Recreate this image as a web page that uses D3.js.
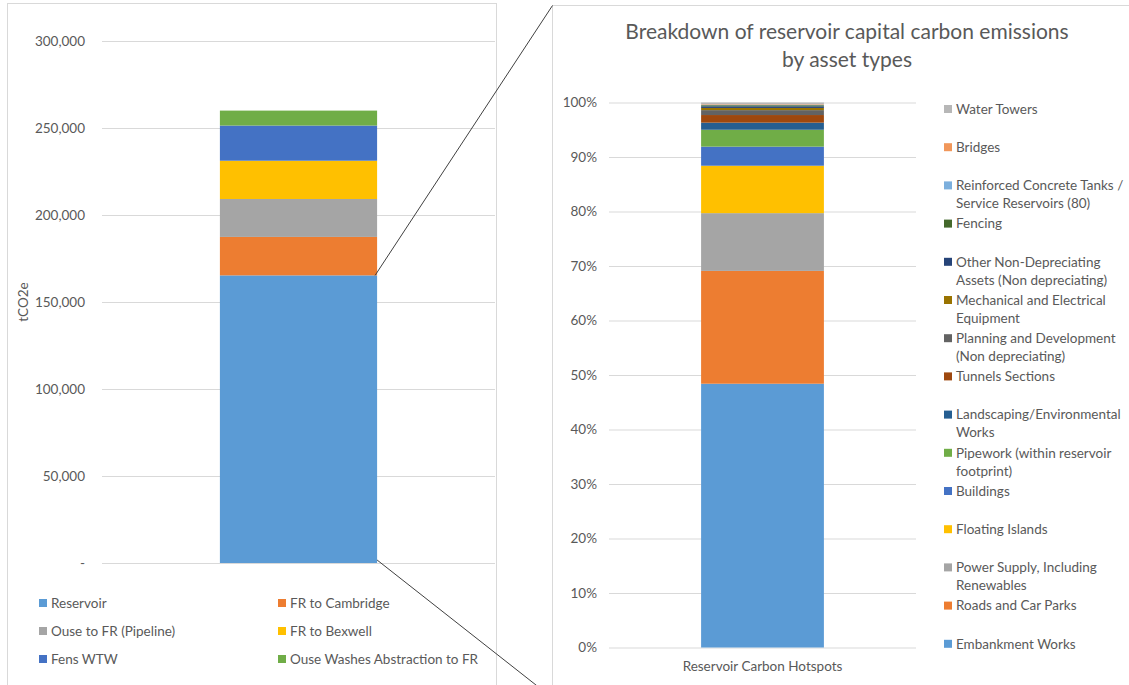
<!DOCTYPE html>
<html><head><meta charset="utf-8">
<script src="https://cdn.jsdelivr.net/npm/d3@7"></script>
<style>
body{margin:0;background:#fff}
svg{display:block}
text{font-family:Lato,"Open Sans",sans-serif;fill:#595959}
</style>
</head><body>
<svg id="c" width="1129" height="685"></svg>
<script>
// ---------- data ----------
const leftCategories = ["Total"];
const leftSeries = ["Reservoir","FR to Cambridge","Ouse to FR (Pipeline)","FR to Bexwell","Fens WTW","Ouse Washes Abstraction to FR"];
const leftValues = [165300, 22100, 21800, 22000, 20200, 8600];
const leftColors = ["#5B9BD5","#ED7D31","#A5A5A5","#FFC000","#4472C4","#70AD47"];
const leftTicks = [0, 50000, 100000, 150000, 200000, 250000, 300000];

const rightCategories = ["Reservoir Carbon Hotspots"];
const rightSeries = ["Embankment Works","Roads and Car Parks","Power Supply, Including Renewables","Floating Islands","Buildings","Pipework (within reservoir footprint)","Landscaping/Environmental Works","Tunnels Sections","Planning and Development (Non depreciating)","Mechanical and Electrical Equipment","Other Non-Depreciating Assets (Non depreciating)","Fencing","Reinforced Concrete Tanks / Service Reservoirs (80)","Bridges","Water Towers"];
const rightLegendLines = [["Embankment Works"],["Roads and Car Parks"],["Power Supply, Including","Renewables"],["Floating Islands"],["Buildings"],["Pipework (within reservoir","footprint)"],["Landscaping/Environmental","Works"],["Tunnels Sections"],["Planning and Development","(Non depreciating)"],["Mechanical and Electrical","Equipment"],["Other Non-Depreciating","Assets (Non depreciating)"],["Fencing"],["Reinforced Concrete Tanks /","Service Reservoirs (80)"],["Bridges"],["Water Towers"]];
const rightValues = [48.4, 20.7, 10.6, 8.7, 3.5, 3.1, 1.3, 1.4, 0.9, 0.4, 0.3, 0.2, 0.1, 0.1, 0.3];
const rightColors = ["#5B9BD5","#ED7D31","#A5A5A5","#FFC000","#4472C4","#70AD47","#255E91","#9E480E","#636363","#997300","#264478","#43682B","#7CAFDD","#F1975A","#B7B7B7"];
const rightTicks = [0,0.1,0.2,0.3,0.4,0.5,0.6,0.7,0.8,0.9,1];
const rightTitle = ["Breakdown of reservoir capital carbon emissions","by asset types"];
const leftAxisTitle = "tCO2e";

// ---------- drawing ----------
const svg = d3.select("#c");
const grid = "#d9d9d9";
const fs = 13.5;

// chart frames
svg.append("rect").attr("x",7.5).attr("y",3.5).attr("width",489).attr("height",720)
  .attr("fill","none").attr("stroke",grid);
svg.append("rect").attr("x",552.5).attr("y",5.5).attr("width",620).attr("height",720)
  .attr("fill","none").attr("stroke",grid);

// ===== Left chart =====
const lx = d3.scaleBand().domain(leftCategories).range([102,495]).paddingInner(0.6).paddingOuter(0.3);
const ly = d3.scaleLinear().domain([0,300000]).range([563,41]);

const lAxis = d3.axisLeft(ly).tickValues(leftTicks).tickSize(-(495-102)).tickPadding(17)
  .tickFormat(d => d === 0 ? "-" : d3.format(",")(d));
const lg = svg.append("g").attr("transform","translate(102,0)").call(lAxis);
lg.select(".domain").remove();
lg.selectAll(".tick line").attr("stroke",grid).attr("stroke-width",1);
lg.selectAll(".tick text").attr("font-size",fs).attr("fill","#595959").style("font-family","Lato, 'Open Sans', sans-serif");

const leftRow = {};
leftSeries.forEach((s,i)=> leftRow[s] = leftValues[i]);
leftRow.cat = leftCategories[0];
const lStack = d3.stack().keys(leftSeries)([leftRow]);
svg.append("g").selectAll("rect").data(lStack).join("rect")
  .attr("x", d => lx(d[0].data.cat))
  .attr("width", lx.bandwidth())
  .attr("y", d => ly(d[0][1]))
  .attr("height", d => ly(d[0][0]) - ly(d[0][1]))
  .attr("fill", (d,i) => leftColors[i]);

svg.append("text").attr("transform","translate(28,302) rotate(-90)")
  .attr("text-anchor","middle").attr("font-size",fs).text(leftAxisTitle);

// left legend (2 columns x 3 rows)
const legColX = [39, 278];
const legRowY = [603, 631, 659];
const llg = svg.append("g");
leftSeries.forEach((s,i)=>{
  const cx = legColX[i%2], cy = legRowY[Math.floor(i/2)];
  llg.append("rect").attr("x",cx).attr("y",cy-4).attr("width",8).attr("height",8).attr("fill",leftColors[i]);
  llg.append("text").attr("x",cx+12).attr("y",cy).attr("dy","0.35em").attr("font-size",fs).text(s);
});

// ===== Right chart =====
const rx = d3.scaleBand().domain(rightCategories).range([609,916]).paddingInner(0.6).paddingOuter(0.3);
const ry = d3.scaleLinear().domain([0,1]).range([647.5,102.5]);

const rAxis = d3.axisLeft(ry).tickValues(rightTicks).tickSize(-(916-609)).tickPadding(12)
  .tickFormat(d3.format(".0%"));
const rg = svg.append("g").attr("transform","translate(609,0)").call(rAxis);
rg.select(".domain").remove();
rg.selectAll(".tick line").attr("stroke",grid).attr("stroke-width",1);
rg.selectAll(".tick text").attr("font-size",fs).attr("fill","#595959").style("font-family","Lato, 'Open Sans', sans-serif");

const rightRow = {};
rightSeries.forEach((s,i)=> rightRow[s] = rightValues[i]);
rightRow.cat = rightCategories[0];
const rStack = d3.stack().keys(rightSeries).offset(d3.stackOffsetExpand)([rightRow]);
svg.append("g").selectAll("rect").data(rStack).join("rect")
  .attr("x", d => rx(d[0].data.cat))
  .attr("width", rx.bandwidth())
  .attr("y", d => ry(d[0][1]))
  .attr("height", d => ry(d[0][0]) - ry(d[0][1]))
  .attr("fill", (d,i) => rightColors[i]);

// x category label
svg.append("text").attr("x", rx(rightCategories[0]) + rx.bandwidth()/2).attr("y",666)
  .attr("dy","0.35em").attr("text-anchor","middle").attr("font-size",fs).text(rightCategories[0]);

// title
svg.append("text").attr("x",847).attr("y",39).attr("text-anchor","middle").attr("font-size",21)
  .selectAll("tspan").data(rightTitle).join("tspan")
  .attr("x",847).attr("dy",(d,i)=> i===0 ? 0 : 28).text(d=>d);

// right legend (reverse order, top = last series)
const rlg = svg.append("g");
const n = rightSeries.length;
for (let k = 0; k < n; k++) {
  const i = n - 1 - k;
  const cy = 109 + k*38.2;
  rlg.append("rect").attr("x",944).attr("y",cy-4).attr("width",8).attr("height",8).attr("fill",rightColors[i]);
  const t = rlg.append("text").attr("x",956).attr("y",cy).attr("font-size",fs);
  rightLegendLines[i].forEach((line,j)=>{
    t.append("tspan").attr("x",956).attr("dy", j===0 ? "0.35em" : 18).text(line);
  });
}

// connector lines
const barRight = lx(leftCategories[0]) + lx.bandwidth();
svg.append("line").attr("x1",barRight-2).attr("y1",ly(leftValues[0])).attr("x2",552.5).attr("y2",5.5)
  .attr("stroke","#404040").attr("stroke-width",1);
svg.append("line").attr("x1",barRight).attr("y1",ly(0)-3).attr("x2",552.5).attr("y2",698)
  .attr("stroke","#404040").attr("stroke-width",1);
</script>
</body></html>
